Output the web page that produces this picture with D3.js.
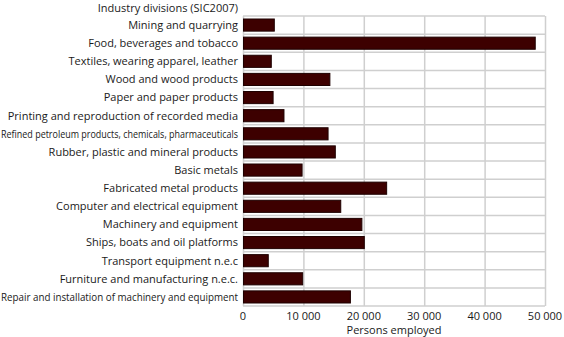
<!DOCTYPE html>
<html><head><meta charset="utf-8">
<script src="https://cdn.jsdelivr.net/npm/d3@7"></script>
<style>body{margin:0;background:#fff}svg{display:block}text{font-family:"Open Sans",sans-serif;fill:#1a1a1a}</style>
</head><body>
<script>
const categories = ["Mining and quarrying","Food, beverages and tobacco","Textiles, wearing apparel, leather","Wood and wood products","Paper and paper products","Printing and reproduction of recorded media","Refined petroleum products, chemicals, pharmaceuticals","Rubber, plastic and mineral products","Basic metals","Fabricated metal products","Computer and electrical equipment","Machinery and equipment","Ships, boats and oil platforms","Transport equipment n.e.c","Furniture and manufacturing n.e.c.","Repair and installation of machinery and equipment"];
const values = [5100,48300,4600,14300,4900,6700,14000,15200,9700,23700,16100,19600,20000,4100,9800,17700];
const xTicks = [0,10000,20000,30000,40000,50000];
const titleText = "Industry divisions (SIC2007)";
const xTitle = "Persons employed";

const W=564,H=337,FS=11;
const m={left:243,right:19,top:16,bottom:31};
const svg=d3.select("body").append("svg").attr("width",W).attr("height",H);
const x=d3.scaleLinear().domain([0,50000]).range([m.left,W-m.right]);
const y=d3.scaleBand().domain(categories).range([m.top,H-m.bottom]);
const rowH=y.step();
const fmt=v=>d3.format(",")(v).replace(/,/g,"\u00a0");
const grid="#cfcfcf";
svg.append("g").selectAll("line").data(xTicks).join("line")
 .attr("x1",d=>x(d)+0.5).attr("x2",d=>x(d)+0.5).attr("y1",m.top).attr("y2",H-m.bottom)
 .attr("stroke",grid).attr("stroke-width",1.5);
const rowEdges=d3.range(categories.length+1).map(i=>m.top+rowH*i);
svg.append("g").selectAll("line").data(rowEdges).join("line")
 .attr("x1",m.left).attr("x2",W-m.right).attr("y1",d=>d).attr("y2",d=>d)
 .attr("stroke",grid).attr("stroke-width",1.5);
svg.append("g").selectAll("rect").data(values).join("rect")
 .attr("x",x(0)+0.5).attr("y",(d,i)=>y(categories[i])+3)
 .attr("width",d=>x(d)-x(0)).attr("height",rowH-6)
 .attr("fill","#3d0000").attr("stroke","#1e0000").attr("stroke-width",1);
const lab=svg.append("g").selectAll("text").data(categories).join("text")
 .attr("x",m.left-5).attr("y",d=>y(d)+rowH/2).attr("dy","0.35em")
 .attr("text-anchor","end").attr("font-size",FS).text(d=>d);
lab.each(function(){const w=this.getComputedTextLength();if(w>m.left-6){d3.select(this).attr("textLength",m.left-6).attr("lengthAdjust","spacingAndGlyphs");}});
svg.append("text").attr("x",m.left-5).attr("y",8).attr("dy","0.35em").attr("text-anchor","end").attr("font-size",FS).text(titleText);
svg.append("g").selectAll("text").data(xTicks).join("text")
 .attr("x",d=>x(d)).attr("y",316).attr("dy","0.35em").attr("text-anchor","middle").attr("font-size",FS).text(fmt);
svg.append("text").attr("x",(x(0)+x(50000))/2).attr("y",330).attr("dy","0.35em").attr("text-anchor","middle").attr("font-size",FS).text(xTitle);
</script>
</body></html>
